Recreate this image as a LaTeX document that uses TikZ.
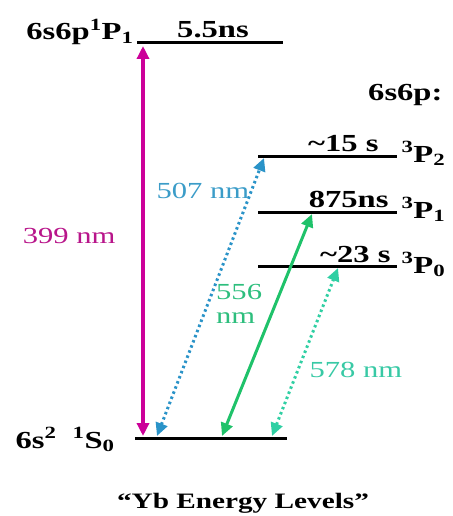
\documentclass[tikz,border=0pt]{standalone}
\usepackage{fontspec}
\setmainfont{Liberation Serif}[FakeStretch=1.33]
\usetikzlibrary{arrows.meta}
\definecolor{magline}{HTML}{CC0099}
\definecolor{magtext}{HTML}{B8158A}
\definecolor{blueline}{HTML}{2A93C8}
\definecolor{bluetext}{HTML}{3B9CC8}
\definecolor{greenline}{HTML}{1FC26A}
\definecolor{greentext}{HTML}{2DBE7D}
\definecolor{tealline}{HTML}{2FCFA3}
\definecolor{tealtext}{HTML}{38C9A5}
\tikzset{
    lvl/.style={line width=3pt},
    big/.style={font=\fontsize{23}{24}\selectfont},
    bigbf/.style={font=\bfseries\fontsize{24.5}{25}\selectfont},
    tip/.style={{Triangle[length=13pt,width=12pt]}-{Triangle[length=13pt,width=12pt]}},
    dots/.style={line width=3pt,dash pattern=on 2.5pt off 3pt},
}
\begin{document}
\begin{tikzpicture}[x=1pt,y=-1pt]
        \useasboundingbox (0,0) rectangle (452,516);
        \coordinate (pa) at (137,43);  \coordinate (pb) at (283,43);
        \coordinate (ta) at (258,156); \coordinate (tb) at (397,156);
        \coordinate (ua) at (258,212); \coordinate (ub) at (397,212);
        \coordinate (va) at (258,266); \coordinate (vb) at (397,266);
        \coordinate (ga) at (135,438); \coordinate (gb) at (287,438);
        \draw[lvl] (pa) -- (pb);
        \draw[lvl] (ta) -- (tb);
        \draw[lvl] (ua) -- (ub);
        \draw[lvl] (va) -- (vb);
        \draw[lvl] (ga) -- (gb);
        \node[bigbf,anchor=base east] (lp) at (137,40)
            {6s6p\textsuperscript{1}P\textsubscript{1}};
        \node[bigbf,anchor=base] (tp) at (213,38) {5.5ns};
        \node[bigbf,anchor=base east] (hd) at (446,101) {6s6p:};
        \node[bigbf,anchor=base east] (tt) at (382,151) {\textasciitilde15 s};
        \node[bigbf,anchor=base west] (lt) at (398,162)
            {\textsuperscript{3}P\textsubscript{2}};
        \node[bigbf,anchor=base east] (tu) at (392,207) {875ns};
        \node[bigbf,anchor=base west] (lu) at (398,218)
            {\textsuperscript{3}P\textsubscript{1}};
        \node[bigbf,anchor=base east] (tv) at (394,262) {\textasciitilde23 s};
        \node[bigbf,anchor=base west] (lv) at (398,273)
            {\textsuperscript{3}P\textsubscript{0}};
        \node[bigbf,anchor=base west] (lg) at (12,448)
            {6s\textsuperscript{2}\ \ \textsuperscript{1}S\textsubscript{0}};
        \node[bigbf,anchor=base,font=\bfseries\fontsize{22}{23}\selectfont] (ti)
            at (243,508) {``Yb Energy Levels''};
        \coordinate (ma) at (143,46);  \coordinate (mb) at (143,436);
        \coordinate (ba) at (157,436); \coordinate (bb) at (264,158);
        \coordinate (ca) at (222,436); \coordinate (cb) at (312,214);
        \coordinate (da) at (272,436); \coordinate (db) at (338,268);
        \draw[tip,magline,line width=3.5pt] (mb) -- (ma);
        \draw[tip,blueline,dots] (ba) -- (bb);
        \draw[tip,greenline,line width=3pt] (ca) -- (cb);
        \draw[tip,tealline,dots] (da) -- (db);
        \node[big,magtext,anchor=base east] (wm) at (119,243) {399 nm};
        \node[big,bluetext,anchor=base west] (wb) at (153,198) {507 nm};
        \node[big,greentext,anchor=base west,align=left,inner sep=0pt] (wc)
            at (216,323) {556\\nm};
        \node[big,tealtext,anchor=base west] (wd) at (306,377) {578 nm};
    \end{tikzpicture}
\end{document}
